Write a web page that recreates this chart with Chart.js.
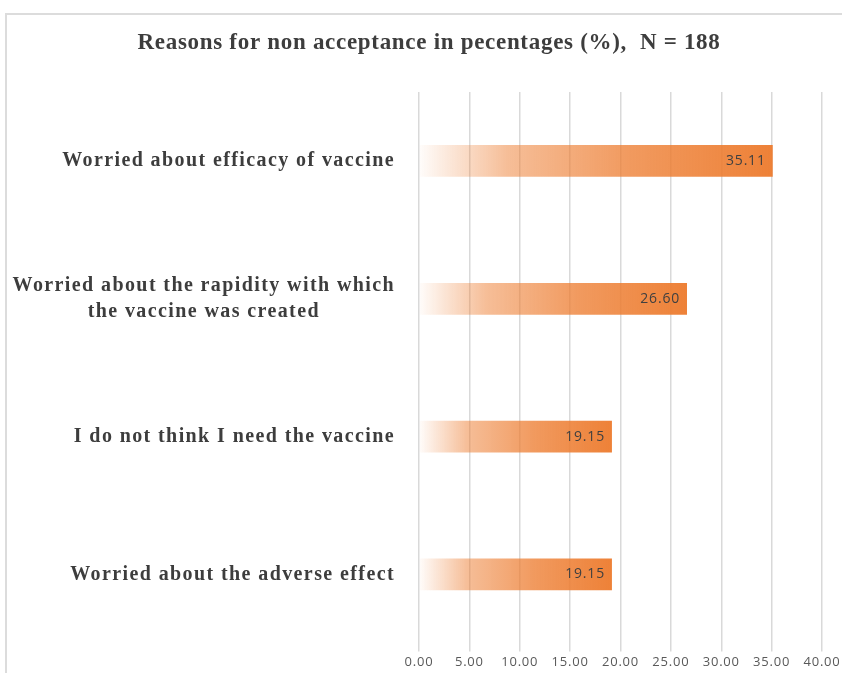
<!DOCTYPE html>
<html>
<head>
<meta charset="utf-8">
<script src="https://cdn.jsdelivr.net/npm/chart.js@4/dist/chart.umd.min.js"></script>
<style>
  body { margin: 0; background: #fff; }
  #frame { position: absolute; left: 5px; top: 13px; width: 900px; height: 720px; border: 2px solid #dcdcdc; box-sizing: border-box; }
  #wrap { position: absolute; left: 0; top: 0; width: 842px; height: 673px; }
</style>
</head>
<body>
<div id="frame"></div>
<div id="wrap"><canvas id="myChart"></canvas></div>
<script>
const titleText = "Reasons for non acceptance in pecentages (%),  N = 188";
const reasons = [
    ["Worried about efficacy of vaccine"],
    ["Worried about the rapidity with which", "the vaccine was created"],
    ["I do not think I need the vaccine"],
    ["Worried about the adverse effect"]
];
const percentages = [35.11, 26.60, 19.15, 19.15];
const xTicks = [0, 5, 10, 15, 20, 25, 30, 35, 40];

// gradient per bar, white on the left to orange at the end
function barGradient(context) {
    const chart = context.chart;
    if (!chart.chartArea) return "#ED7D31";
    const xs = chart.scales.x;
    const x0 = xs.getPixelForValue(0);
    const x1 = xs.getPixelForValue(context.raw);
    const g = chart.ctx.createLinearGradient(x0, 0, x1, 0);
    g.addColorStop(0, "rgba(237,125,49,0.02)");
    g.addColorStop(0.25, "rgba(237,125,49,0.5)");
    g.addColorStop(0.6, "rgba(237,125,49,0.78)");
    g.addColorStop(1, "rgba(237,125,49,0.97)");
    return g;
}

// title + category labels (block right aligned, lines centred to each other)
const textPlugin = {
    id: "textPlugin",
    beforeDraw(chart) {
        chart.ctx.letterSpacing = "0.8px";
    },
    afterDraw(chart) {
        const c = chart.ctx;
        const ys = chart.scales.y;
        c.save();
        c.fillStyle = "#3d3d3d";
        c.textAlign = "center";
        c.textBaseline = "middle";
        c.font = "bold 23px 'Liberation Serif'";
        c.letterSpacing = "0.7px";
        c.fillText(titleText, 429, 43);

        c.font = "bold 20px 'Liberation Serif'";
        c.letterSpacing = "1.4px";
        const right = 395;
        const lh = 26;
        reasons.forEach((lines, i) => {
            const yc = ys.getPixelForValue(i);
            const w = Math.max(...lines.map(l => c.measureText(l).width));
            const cx = right - w / 2;
            lines.forEach((l, j) => {
                c.fillText(l, cx, yc + (j - (lines.length - 1) / 2) * lh);
            });
        });
        c.restore();
    }
};

// value labels inside the end of each bar
const valueLabels = {
    id: "valueLabels",
    afterDatasetsDraw(chart) {
        const c = chart.ctx;
        const meta = chart.getDatasetMeta(0);
        c.save();
        c.font = "14px 'Open Sans'";
        c.letterSpacing = "0.8px";
        c.fillStyle = "#404040";
        c.textAlign = "right";
        c.textBaseline = "middle";
        meta.data.forEach((bar, i) => {
            c.fillText(percentages[i].toFixed(2), bar.x - 7, bar.y);
        });
        c.restore();
    }
};

new Chart("myChart", {
    type: "bar",
    data: {
        labels: reasons,
        datasets: [{
            data: percentages,
            backgroundColor: barGradient,
            borderWidth: 0,
            barPercentage: 0.23,
            categoryPercentage: 1
        }]
    },
    options: {
        indexAxis: "y",
        responsive: true,
        maintainAspectRatio: false,
        animation: false,
        layout: { padding: { left: 419, right: 20, top: 92, bottom: 0 } },
        plugins: {
            legend: { display: false },
            tooltip: { enabled: false },
            title: { display: false }
        },
        scales: {
            x: {
                min: 0,
                max: 40,
                afterBuildTicks(scale) {
                    scale.ticks = xTicks.map(v => ({ value: v }));
                },
                grid: { color: "#d9d9d9", lineWidth: 1.5, tickLength: 8 },
                border: { display: false },
                ticks: {
                    color: "#595959",
                    padding: 3,
                    font: { family: "'Open Sans'", size: 13 },
                    callback: v => v.toFixed(2)
                }
            },
            y: {
                display: false
            }
        }
    },
    plugins: [textPlugin, valueLabels]
});
</script>
</body>
</html>
